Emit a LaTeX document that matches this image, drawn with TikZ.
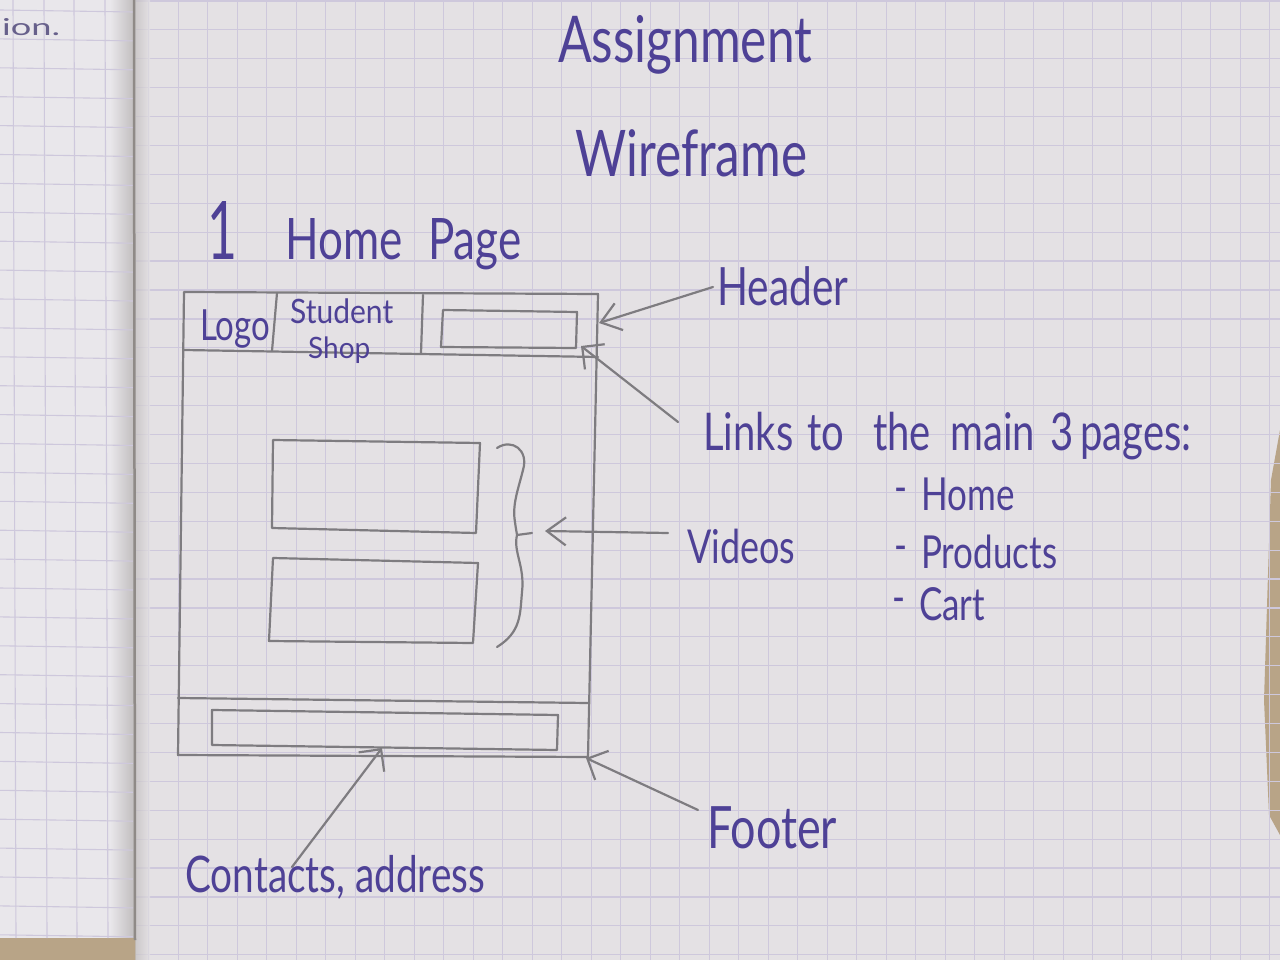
\documentclass[tikz,border=0pt]{standalone}
\usepackage{fontspec}
\setmainfont{Lato}
\usetikzlibrary{arrows.meta,calc}

\definecolor{ink}{HTML}{4E4196}
\definecolor{pencil}{HTML}{7E7C80}
\definecolor{paper}{HTML}{E4E1E4}
\definecolor{leftpaper}{HTML}{E9E7EB}
\definecolor{gridc}{HTML}{CEC8DC}
\definecolor{table}{HTML}{B8A487}
\definecolor{fold}{HTML}{8F8A87}

% handwritten word: stretched a little upward, then sized to a given width
\newcommand{\hw}[2]{\resizebox{#1pt}{!}{\scalebox{1}[1.3]{#2}}}
% handwriting at a fixed size, stretched upward
\newcommand{\hand}[1]{\scalebox{1}[1.3]{#1}}
% one word occupying a fixed run of the line
\newcommand{\wordrun}[2]{\makebox[#1pt][l]{#2}}

\begin{document}
\begin{tikzpicture}[x=1pt,y=-1pt,
  pen/.style={draw=pencil, line width=2.2pt, line cap=round, line join=round},
  ptrv/.style={pen, -{Straight Barb[length=19pt,width=28pt]}},
  ptrl/.style={pen, -{Straight Barb[length=16pt,width=32pt]}},
  lbl/.style={text=ink, inner sep=0pt, anchor=base west},
]
\useasboundingbox (0,0) rectangle (1280,960);

% ---- notebook spread ----
\fill[paper] (0,0) rectangle (1280,960);
\fill[leftpaper] (0,0) rectangle (134,940);
\shade[left color=leftpaper, right color=fold!45!leftpaper] (110,0) rectangle (134,940);
\fill[table] (0,938) rectangle (136,960);
\fill[table] (1280,430) -- (1271,480) -- (1264,700) -- (1269,815) -- (1280,835) -- cycle;

% squared ruling, right page
\foreach \k in {5,...,43}
  \draw[gridc, line width=1.2pt] ({1.3+29.5*\k},0) -- ({1.3+29.5*\k},960);
\foreach \k in {0,...,33}
  \draw[gridc, line width=1.2pt] (136,{1+28.9*\k}) -- (1280,{1+28.9*\k});
% squared ruling, left page
\foreach \x in {13,44,74,105}
  \draw[gridc, line width=1.1pt] (\x,0) -- ({\x+3},938);
\foreach \k in {0,...,32}
  \draw[gridc, line width=1.1pt] (0,{10+28.9*\k}) -- (133,{12+28.9*\k});
\shade[left color=fold!40!paper, right color=paper, opacity=0.7] (135,0) rectangle (150,960);
\draw[fold, line width=2.5pt] (134,0) -- (135,940);

% ---- wireframe corners ----
\coordinate (pTL) at (184,292);
\coordinate (pTR) at (598,294);
\coordinate (pBL) at (178,755);
\coordinate (pBR) at (588,757);
\coordinate (hBL) at (184,350);
\coordinate (hBR) at (598,357);
\coordinate (fL) at (178,698);
\coordinate (fR) at (588,703);

% page outline, header band and footer band
\draw[pen] (pTL) -- (pTR) -- (pBR) -- (pBL) -- cycle;
\draw[pen] (hBL) -- (hBR);
\draw[pen] (fL) -- (fR);
\draw[pen] (277,293) -- (272,351);
\draw[pen] (423,295) -- (421,353);

% navigation links box
\draw[pen] (443,310) -- (577,312) -- (576,348) -- (441,347) -- cycle;
% video boxes
\draw[pen] (273,440) -- (480,443) -- (476,533) -- (272,528) -- cycle;
\draw[pen] (273,558) -- (478,563) -- (473,643) -- (269,641) -- cycle;
% footer contacts box
\draw[pen] (212,710) -- (558,715) -- (557,750) -- (212,745) -- cycle;

% curly brace grouping the videos
\draw[pen] (497,448) .. controls (512,438) and (529,450) .. (523,470)
  .. controls (518,490) and (512,505) .. (515,522)
  .. controls (516,530) and (517,534) .. (517,535) -- (532,533);
\draw[pen] (517,535) .. controls (513,552) and (525,566) .. (522,592)
  .. controls (520,615) and (521,632) .. (497,647);

% ---- pointer ends ----
\coordinate (hdrTip) at (599,323);
\coordinate (lnkTip) at (581,346);
\coordinate (vidTip) at (545,531);
\coordinate (footTip) at (586,758);
\coordinate (contTip) at (382,748);
\coordinate (hdrTail) at (713,287);
\coordinate (lnkTail) at (678,422);
\coordinate (vidTail) at (668,533);
\coordinate (footTail) at (698,810);
\coordinate (contTail) at (292,867);

\draw[ptrv] (hdrTail) -- (hdrTip);
\draw[ptrl] (lnkTail) -- (lnkTip);
\draw[ptrv] (vidTail) -- (vidTip);
\draw[ptrl] (footTail) -- (footTip);
\draw[ptrl] (contTail) -- (contTip);

% ---- handwriting ----
\node[lbl, text=ink!50!gray] (prev) at (2,36) {\resizebox{58pt}{17pt}{ion.}};
\node[lbl] (asg) at (558,63) {\hw{254}{Assignment}};
\node[lbl] (wf) at (575,177) {\hw{232}{Wireframe}};
\node[lbl, font=\fontsize{44}{44}\selectfont] (hp) at (207,260)
  {\wordrun{78}{\resizebox{30pt}{58pt}{1}}\wordrun{143}{\hand{Home}}\hand{Page}};

\node[lbl] (logo) at (200,340) {\hw{70}{Logo}};
\node[lbl, font=\fontsize{30}{30}\selectfont] (stu) at (290,323) {\scalebox{1}[1.12]{Student}};
\node[lbl, font=\fontsize{28}{28}\selectfont] (shop) at (308,358) {\scalebox{1}[1.05]{Shop}};

\node[lbl] (hdr) at (717,305) {\hw{131}{Header}};
\node[lbl, font=\fontsize{40}{40}\selectfont] (lnk) at (703,450)
  {\hand{\wordrun{104}{Links}\wordrun{66}{to}\wordrun{77}{the}\wordrun{100}{main}\wordrun{30}{3}pages:}};
\node[lbl, font=\fontsize{35}{35}\selectfont] (lhome) at (894,510)
  {\hand{\raisebox{5pt}{-}\hspace{14pt}Home}};
\node[lbl, font=\fontsize{35}{35}\selectfont] (lprod) at (894,568)
  {\hand{\raisebox{5pt}{-}\hspace{14pt}Products}};
\node[lbl, font=\fontsize{35}{35}\selectfont] (lcart) at (892,620)
  {\hand{\raisebox{5pt}{-}\hspace{14pt}Cart}};
\node[lbl] (vid) at (687,563) {\hw{108}{Videos}};
\node[lbl] (foot) at (707,848) {\hw{130}{Footer}};
\node[lbl] (cont) at (185,892) {\hw{300}{Contacts, address}};
\end{tikzpicture}
\end{document}
